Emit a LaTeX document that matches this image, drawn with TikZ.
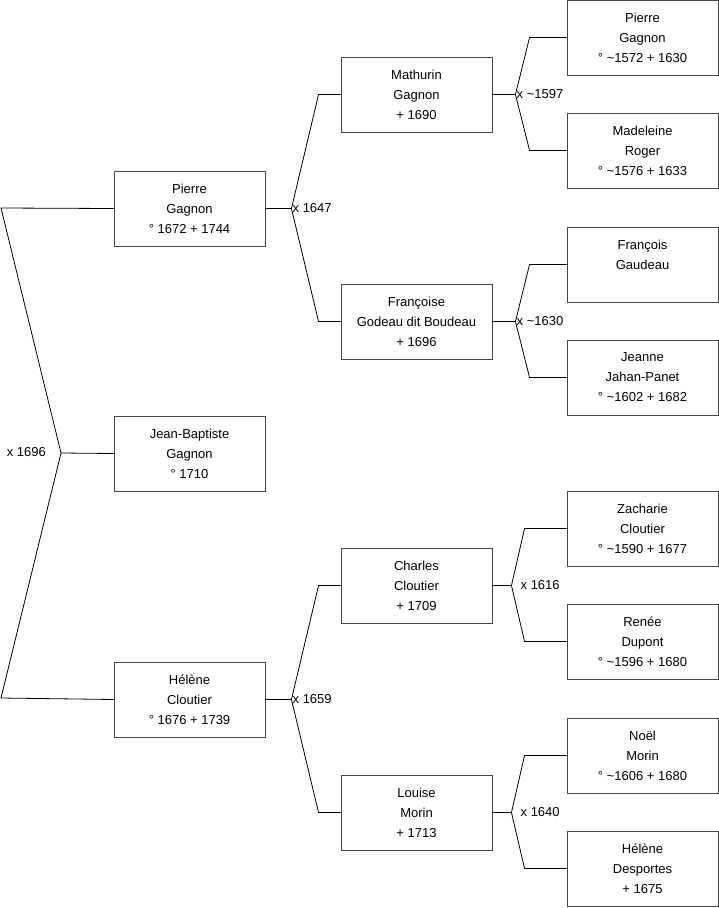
\documentclass[tikz,border=0pt]{standalone}
\usepackage{fontspec}
\setmainfont{Liberation Sans}
\usetikzlibrary{positioning, calc}
\definecolor{BoxGray}{RGB}{70, 70, 70}
\newcommand{\ca}{\textasciitilde}

\begin{document}
\begin{tikzpicture}[x=1pt, y=-1pt,
    person/.style={draw=BoxGray, line width=0.9pt, minimum width=151pt, minimum height=75pt,
        inner sep=0pt, align=center, font=\fontsize{13}{20}\selectfont},
    mariage/.style={font=\fontsize{13}{14}\selectfont, inner sep=1pt},
    lien/.style={line width=0.8pt, black}]
    \useasboundingbox (0,0) rectangle (719,908);
    % Generation 1
    \node[person] (p1) at (189.5,208.5) {Pierre\\Gagnon\\° 1672 + 1744};
    \node[person] (jb) at (189.5,453.5) {Jean-Baptiste\\Gagnon\\° 1710};
    \node[person] (h1) at (189.5,699.5) {Hélène\\Cloutier\\° 1676 + 1739};
    % Generation 2
    \node[person] (m2) at (416.5,94.5) {Mathurin\\Gagnon\\+ 1690};
    \node[person] (f2) at (416.5,321.5) {Françoise\\Godeau dit Boudeau\\+ 1696};
    \node[person] (c2) at (416.5,585.5) {Charles\\Cloutier\\+ 1709};
    \node[person] (l2) at (416.5,812.5) {Louise\\Morin\\+ 1713};
    % Generation 3
    \node[person] (p3) at (642.5,37.5) {Pierre\\Gagnon\\° \ca1572 + 1630};
    \node[person] (m3) at (642.5,150.5) {Madeleine\\Roger\\° \ca1576 + 1633};
    \node[person] (f3) at (642.5,264.5) {François\\Gaudeau\\\mbox{}};
    \node[person] (j3) at (642.5,377.5) {Jeanne\\Jahan-Panet\\° \ca1602 + 1682};
    \node[person] (z3) at (642.5,528.5) {Zacharie\\Cloutier\\° \ca1590 + 1677};
    \node[person] (r3) at (642.5,641.5) {Renée\\Dupont\\° \ca1596 + 1680};
    \node[person] (n3) at (642.5,755.5) {Noël\\Morin\\° \ca1606 + 1680};
    \node[person] (d3) at (642.5,868.5) {Hélène\\Desportes\\+ 1675};
    % Couple of Jean-Baptiste
    \coordinate (v0) at (61,453);
    \coordinate (r1) at (1,208);
    \coordinate (r2) at (1,698);
    \draw[lien] (p1.west) -- (r1) -- (v0) -- (r2) -- (h1.west);
    \draw[lien] (v0) -- (jb.west);
    \node[mariage, left] (x0) at ($(v0)+(-14,-1)$) {x 1696};
    % Couples of the parents: child/father/mother/year/vertex/bend/label
    \foreach \c/\d/\m/\y/\dv/\db/\dl in {p1/m2/f2/1647/26/22/0, h1/c2/l2/1659/26/22/0,
        m2/p3/m3/\ca1597/23/37/0, f2/f3/j3/\ca1630/23/37/0,
        c2/z3/r3/1616/19/42/8, l2/n3/d3/1640/19/42/8} {
        \draw[lien] (\c.east) -- ++(\dv,0) coordinate (v-\c)
            -- ($(\d.west)+(-\db,0)$) -- (\d.west);
        \draw[lien] (v-\c) -- ($(\m.west)+(-\db,0)$) -- (\m.west);
        \node[mariage, right] (x-\c) at ($(v-\c)+(\dl,0)$) {x \y};
    }
\end{tikzpicture}
\end{document}
